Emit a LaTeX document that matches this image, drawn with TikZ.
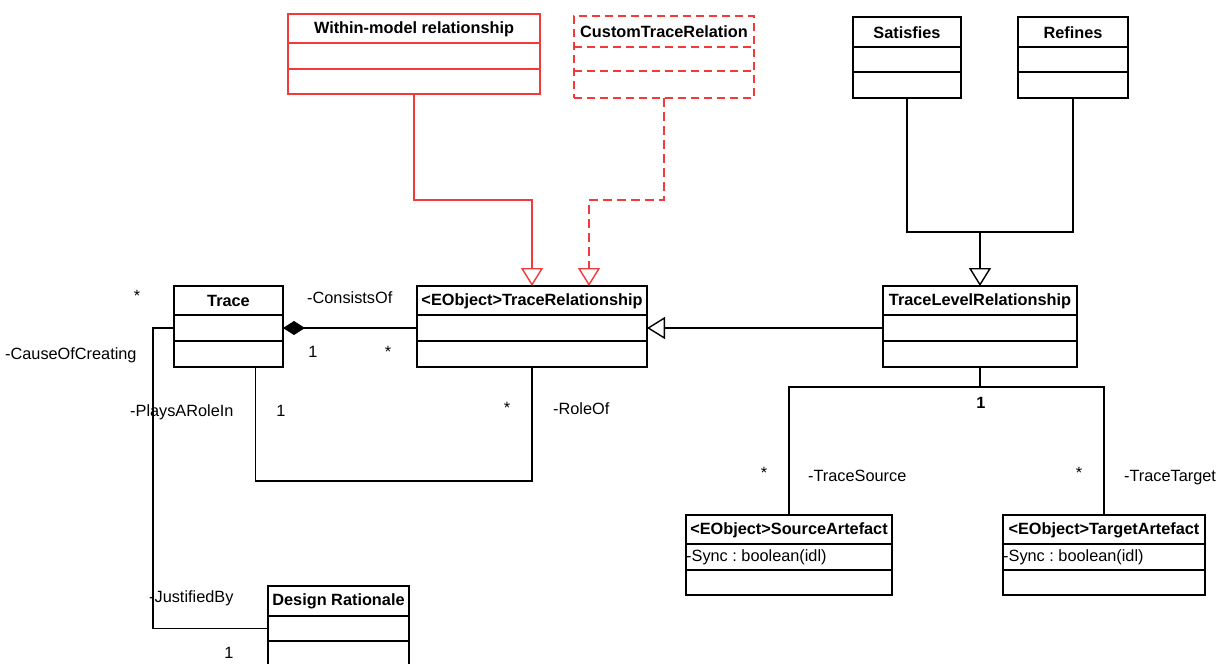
\documentclass[tikz,border=0pt]{standalone}
\usepackage{fontspec}
\setmainfont{Liberation Sans}
\usetikzlibrary{arrows.meta,calc}
\definecolor{umlred}{RGB}{242,58,58}
\frenchspacing
\tikzset{
  every node/.style={font=\fontsize{16.3pt}{19pt}\selectfont, inner sep=0pt},
  clsbox/.style={draw, rectangle, line width=1.4pt, inner sep=0pt, outer sep=0pt},
  clsline/.style={line width=1.4pt},
  ctitle/.style={font=\fontsize{16.3pt}{19pt}\selectfont\bfseries},
  redcls/.style={draw=umlred},
  dashcls/.style={draw=umlred, dash pattern=on 8pt off 5pt},
  conn/.style={line width=1.4pt},
  thickconn/.style={line width=2.6pt},
  gen/.style={-{Triangle[length=18pt,width=22pt,fill=white,line width=1.4pt]}},
  comp/.style={-{Diamond[length=22pt,width=14pt]}},
  lbl/.style={anchor=west},
  mult/.style={anchor=center},
}
% class box: name, x1, y1, x2, y2, first divider, second divider, box style, title
\newcommand{\umlclass}[9]{%
  \node[clsbox,#8,minimum width={#4-#2},minimum height={#5-#3}] (#1) at ({(#2+#4)/2},{(#3+#5)/2}) {};
  \draw[clsline,#8] (#2,#6) -- (#4,#6);
  \draw[clsline,#8] (#2,#7) -- (#4,#7);
  \node[ctitle] (#1-t) at ({(#2+#4)/2},{(#3+#6)/2+0.5}) {#9};
  \coordinate (#1-w) at (#2,{(#6+#7)/2});
  \coordinate (#1-e) at (#4,{(#6+#7)/2});
}
\begin{document}
\begin{tikzpicture}[x=1pt,y=-1pt]
\useasboundingbox (0,0) rectangle (1227,664);
\clip (0,0) rectangle (1227,664);

% classes
\umlclass{wm}{288}{14}{540}{94}{43}{69}{redcls}{Within-model relationship}
\umlclass{cust}{574}{16}{754}{98}{47}{71}{dashcls}{CustomTraceRelation}
\umlclass{sat}{853}{17}{961}{98}{47}{72}{}{Satisfies}
\umlclass{ref}{1018}{17}{1128}{98}{47}{72}{}{Refines}
\umlclass{trace}{174}{286}{283}{367}{315}{341}{}{Trace}
\umlclass{trel}{417}{286}{647}{367}{315}{341}{}{<EObject>TraceRelationship}
\umlclass{tlr}{883}{286}{1077}{367}{315}{341}{}{TraceLevelRelationship}
\umlclass{src}{686}{515}{892}{595}{544}{570}{}{<EObject>SourceArtefact}
\umlclass{tgt}{1003}{515}{1205}{595}{544}{570}{}{<EObject>TargetArtefact}
\umlclass{dr}{268}{586}{409}{690}{616}{641}{}{Design Rationale}

% attributes
\node[lbl] (srcattr) at (686,557) {-Sync : boolean(idl)};
\node[lbl] (tgtattr) at (1003,557) {-Sync : boolean(idl)};

% generalisations into TraceRelationship
\draw[conn,umlred,gen] (wm.south) -- ++(0,106) -| (trel.north);
\draw[conn,umlred,dash pattern=on 9pt off 5pt,gen] (cust.south) -- ++(0,102) -| ($(trel.north)+(57,0)$);
\draw[conn,gen] (tlr-w) -- (trel-e);

% generalisations into TraceLevelRelationship
\coordinate (genjoin) at ($(tlr.north)+(0,-54)$);
\draw[conn] (sat.south) |- (genjoin) -| (ref.south);
\draw[thickconn,gen] (genjoin) -- (tlr.north);

% composition Trace <>-- TraceRelationship
\draw[conn,comp] (trel-w) -- (trace-e);

% Trace -- TraceRelationship (role)
\draw[conn] ($(trace.south west)!0.75!(trace.south east)$) -- ++(0,114) -| (trel.south);

% Trace -- Design Rationale
\draw[conn] (trace-w) -- ++(-21,0) |- (dr-w);

% TraceLevelRelationship -- artefacts
\coordinate (assocjoin) at ($(tlr.south)+(0,20)$);
\draw[thickconn] (tlr.south) -- (assocjoin);
\draw[conn] (src.north) |- (assocjoin) -| (tgt.north);

% role names and multiplicities
\node[mult] (m1) at (137,296) {*};
\node[lbl] (r1) at (307,298) {-ConsistsOf};
\node[mult] (m2) at (313,352) {1};
\node[mult] (m3) at (388,352) {*};
\node[lbl] (r2) at (5,355) {-CauseOfCreating};
\node[lbl] (r3) at (130,412) {-PlaysARoleIn};
\node[mult] (m4) at (281,411) {1};
\node[mult] (m5) at (507,408) {*};
\node[lbl] (r4) at (553,409) {-RoleOf};
\node[mult,font=\fontsize{16.3pt}{19pt}\selectfont\bfseries] (m6) at (981,403) {1};
\node[mult] (m7) at (764,473) {*};
\node[lbl] (r5) at (808,476) {-TraceSource};
\node[mult] (m8) at (1079,473) {*};
\node[lbl] (r6) at (1124,478) {-TraceTarget};
\node[lbl] (r7) at (149,598) {-JustifiedBy};
\node[mult] (m9) at (229,653) {1};
\end{tikzpicture}
\end{document}
